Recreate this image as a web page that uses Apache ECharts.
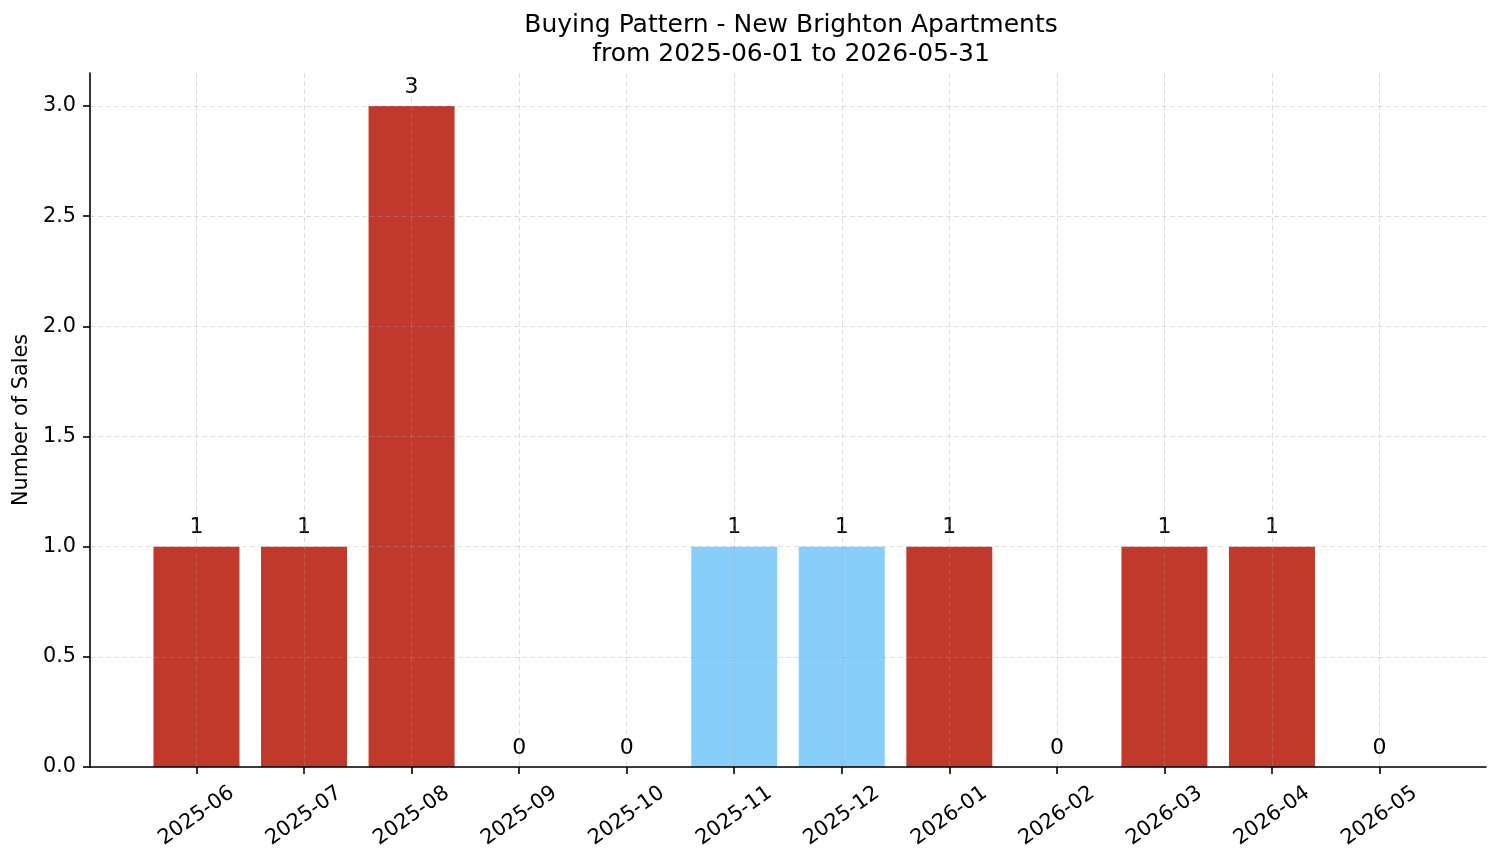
<!DOCTYPE html>
<html>
<head>
<meta charset="utf-8">
<script src="https://cdn.jsdelivr.net/npm/echarts@6/dist/echarts.min.js"></script>
<style>
  html, body { margin: 0; padding: 0; background: #ffffff; }
  #chart { width: 1501px; height: 863px; }
</style>
</head>
<body>
<div id="chart"></div>
<script>
const months = ['2025-06','2025-07','2025-08','2025-09','2025-10','2025-11','2025-12','2026-01','2026-02','2026-03','2026-04','2026-05'];
const sales = [1, 1, 3, 0, 0, 1, 1, 1, 0, 1, 1, 0];
const highlightedMonths = ['2025-11', '2025-12'];
const yTicks = [0, 0.5, 1.0, 1.5, 2.0, 2.5, 3.0];
const titleLines = ['Buying Pattern - New Brighton Apartments', 'from 2025-06-01 to 2026-05-31'];
const yAxisTitle = 'Number of Sales';

const RED = '#c0392b';
const BLUE = '#87cefa';
const FONT = 'DejaVu Sans';
const GRID = { type: [5, 3], color: 'rgba(160,160,160,0.45)', width: 0.8 };

const xIdx = months.map((m, i) => i);
const barData = months.map((m, i) => ({
  value: [i, sales[i]],
  itemStyle: { color: highlightedMonths.includes(m) ? BLUE : RED }
}));

const chart = echarts.init(document.getElementById('chart'), null, { renderer: 'canvas' });
chart.setOption({
  animation: false,
  backgroundColor: '#ffffff',
  textStyle: { fontFamily: FONT },
  title: {
    text: titleLines.join('\n'),
    left: 786,
    textAlign: 'center',
    top: 6,
    textStyle: { fontFamily: FONT, fontSize: 25, fontWeight: 'normal', color: '#000', lineHeight: 29 }
  },
  grid: { left: 90, right: 15, top: 73, bottom: 96, containLabel: false },
  xAxis: {
    type: 'value',
    min: -0.99,
    max: 11.99,
    z: 5,
    axisLine: { show: true, onZero: false, lineStyle: { color: '#000', width: 1.6 } },
    axisTick: { show: true, length: 7, customValues: xIdx, lineStyle: { color: '#000', width: 1.6 } },
    axisLabel: {
      show: true,
      customValues: xIdx,
      formatter: v => months[Math.round(v)] || '',
      rotate: 35,
      align: 'center',
      verticalAlign: 'middle',
      margin: 49,
      fontFamily: FONT,
      fontSize: 20.8,
      color: '#000'
    },
    splitLine: { show: true, lineStyle: GRID }
  },
  yAxis: {
    type: 'value',
    min: 0,
    max: 3.15,
    z: 5,
    name: yAxisTitle,
    nameLocation: 'middle',
    nameGap: 54,
    nameRotate: 90,
    nameTextStyle: { fontFamily: FONT, fontSize: 20.8, color: '#000' },
    axisLine: { show: true, onZero: false, lineStyle: { color: '#000', width: 1.6 } },
    axisTick: { show: true, length: 7, customValues: yTicks, lineStyle: { color: '#000', width: 1.6 } },
    axisLabel: {
      show: true,
      customValues: yTicks,
      formatter: v => v.toFixed(1),
      margin: 14,
      fontFamily: FONT,
      fontSize: 20.8,
      color: '#000'
    },
    splitLine: { show: true, lineStyle: GRID }
  },
  series: [{
    type: 'bar',
    data: barData,
    barWidth: 86,
    z: 2,
    label: {
      show: true,
      position: 'top',
      distance: 8,
      formatter: p => String(p.value[1]),
      fontFamily: FONT,
      fontSize: 22,
      color: '#000'
    }
  }]
});
</script>
</body>
</html>
